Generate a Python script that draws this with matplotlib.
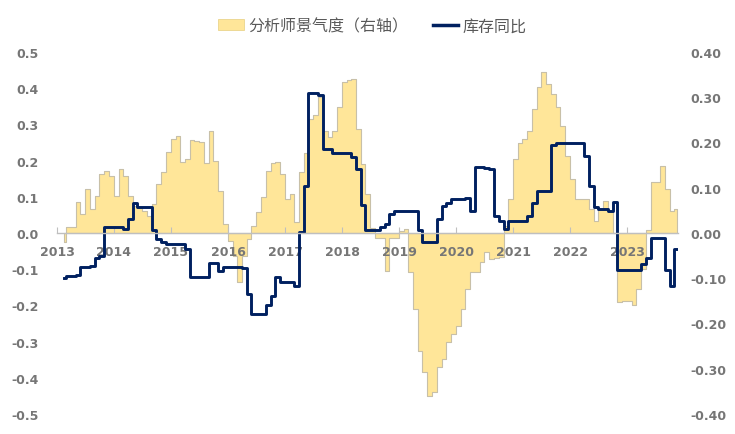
import pandas as pd
import matplotlib
matplotlib.use("Agg")
import matplotlib.pyplot as plt
import matplotlib.dates as mdates
from matplotlib.patches import Patch
from matplotlib.lines import Line2D
from matplotlib.ticker import FormatStrFormatter, MultipleLocator

plt.rcParams['font.family'] = ['Noto Sans CJK SC', 'DejaVu Sans']

# monthly data, Feb 2013 .. Nov 2023
start_month = '2013-02-01'

# 分析师景气度 (right axis)
jingqi = [-0.02, 0.013, 0.013, 0.068, 0.042, 0.097, 0.053, 0.082, 0.13, 0.137,
          0.126, 0.082, 0.141, 0.126, 0.082, 0.06, 0.055, 0.049, 0.038, 0.064,
          0.108, 0.135, 0.179, 0.208, 0.214, 0.157, 0.163, 0.205, 0.204, 0.202,
          0.155, 0.225, 0.16, 0.093, 0.02, -0.018, -0.05, -0.108, -0.05, -0.013,
          0.016, 0.046, 0.08, 0.137, 0.155, 0.157, 0.13, 0.075, 0.086, 0.024,
          0.135, 0.177, 0.252, 0.261, 0.30, 0.225, 0.212, 0.225, 0.278, 0.333,
          0.338, 0.34, 0.23, 0.152, 0.086, 0.01, -0.01, -0.01, -0.083, -0.012,
          -0.012, 0.005, 0.009, -0.087, -0.168, -0.26, -0.307, -0.36, -0.352, -0.296,
          -0.278, -0.241, -0.223, -0.205, -0.168, -0.124, -0.087, -0.087, -0.064, -0.042,
          -0.057, -0.055, -0.053, 0.016, 0.075, 0.163, 0.20, 0.207, 0.225, 0.274,
          0.323, 0.355, 0.33, 0.307, 0.278, 0.237, 0.17, 0.12, 0.075, 0.075,
          0.075, 0.053, 0.027, 0.053, 0.07, 0.049, 0.0, -0.153, -0.15, -0.15,
          -0.16, -0.124, -0.08, 0.007, 0.113, 0.113, 0.148, 0.097, 0.049, 0.053]

# 库存同比 (left axis)
kucun = [-0.125, -0.12, -0.12, -0.116, -0.095, -0.095, -0.09, -0.07, -0.063, 0.017,
         0.017, 0.017, 0.017, 0.011, 0.04, 0.083, 0.072, 0.072, 0.072, 0.008,
         -0.017, -0.025, -0.03, -0.03, -0.03, -0.03, -0.044, -0.122, -0.122, -0.122,
         -0.122, -0.083, -0.083, -0.104, -0.094, -0.094, -0.094, -0.094, -0.097, -0.168,
         -0.224, -0.224, -0.224, -0.2, -0.173, -0.122, -0.134, -0.134, -0.134, -0.146,
         0.003, 0.13, 0.387, 0.387, 0.38, 0.232, 0.232, 0.221, 0.221, 0.221,
         0.221, 0.21, 0.177, 0.077, 0.008, 0.008, 0.008, 0.017, 0.025, 0.052,
         0.06, 0.06, 0.06, 0.06, 0.06, 0.008, -0.025, -0.025, -0.025, 0.04,
         0.075, 0.083, 0.094, 0.094, 0.094, 0.097, 0.061, 0.182, 0.182, 0.18,
         0.178, 0.047, 0.033, 0.011, 0.033, 0.033, 0.033, 0.033, 0.047, 0.083,
         0.116, 0.116, 0.116, 0.243, 0.248, 0.248, 0.248, 0.248, 0.248, 0.248,
         0.213, 0.13, 0.072, 0.066, 0.066, 0.061, 0.086, -0.102, -0.102, -0.102,
         -0.102, -0.102, -0.086, -0.07, -0.014, -0.014, -0.014, -0.102, -0.146, -0.044]

dates = pd.date_range(start_month, periods=len(jingqi), freq='MS') + pd.Timedelta(days=14)

yellow = '#FFE699'
navy = '#002060'
gray = '#767676'

fig = plt.figure(figsize=(7.35, 4.35), dpi=100)
ax = fig.add_axes([57/735, 1 - 415/435, (678 - 57)/735, (415 - 53)/435])
ax2 = ax.twinx()

ax2.fill_between(dates, 0, jingqi, step='mid', facecolor=yellow,
                 edgecolor='#C8C0A8', linewidth=0.8)
ax.plot(dates, kucun, drawstyle='steps-mid', color=navy, linewidth=2.1)

ax.set_zorder(ax2.get_zorder() + 1)
ax.patch.set_visible(False)

ax.set_ylim(-0.5, 0.5)
ax2.set_ylim(-0.4, 0.4)
ax.set_xlim(pd.Timestamp('2013-01-01'), pd.Timestamp('2023-11-22'))

ax.yaxis.set_major_locator(MultipleLocator(0.1))
ax.yaxis.set_major_formatter(FormatStrFormatter('%.1f'))
ax2.yaxis.set_major_locator(MultipleLocator(0.1))
ax2.yaxis.set_major_formatter(FormatStrFormatter('%.2f'))

for a in (ax, ax2):
    for s in ['top', 'left', 'right', 'bottom']:
        a.spines[s].set_visible(False)

ax.spines['bottom'].set_visible(True)
ax.spines['bottom'].set_position(('data', 0))
ax.spines['bottom'].set_color('#BFBFBF')
ax.spines['bottom'].set_linewidth(1.0)

ax.xaxis.set_major_locator(mdates.YearLocator())
ax.xaxis.set_major_formatter(mdates.DateFormatter('%Y'))
ax.tick_params(axis='x', direction='in', length=4, color='#BFBFBF', pad=9,
               labelsize=9, labelcolor=gray)
ax.tick_params(axis='y', length=0, pad=13, labelsize=9, labelcolor=gray)
ax2.tick_params(axis='y', length=0, pad=9, labelsize=9, labelcolor=gray)

for lab in ax.get_xticklabels() + ax.get_yticklabels() + ax2.get_yticklabels():
    lab.set_family('DejaVu Sans')
    lab.set_fontweight('bold')

handles = [Patch(facecolor=yellow, edgecolor='#E6CF80', linewidth=0.5),
           Line2D([0], [0], color=navy, linewidth=2.5)]
fig.legend(handles, ['分析师景气度（右轴）', '库存同比'], loc='center',
           bbox_to_anchor=(0.507, 0.938), ncol=2, frameon=False,
           fontsize=11.5, labelcolor='#595959', handlelength=1.6,
           columnspacing=1.5, handletextpad=0.3)

fig.savefig('out.png', dpi=100)
